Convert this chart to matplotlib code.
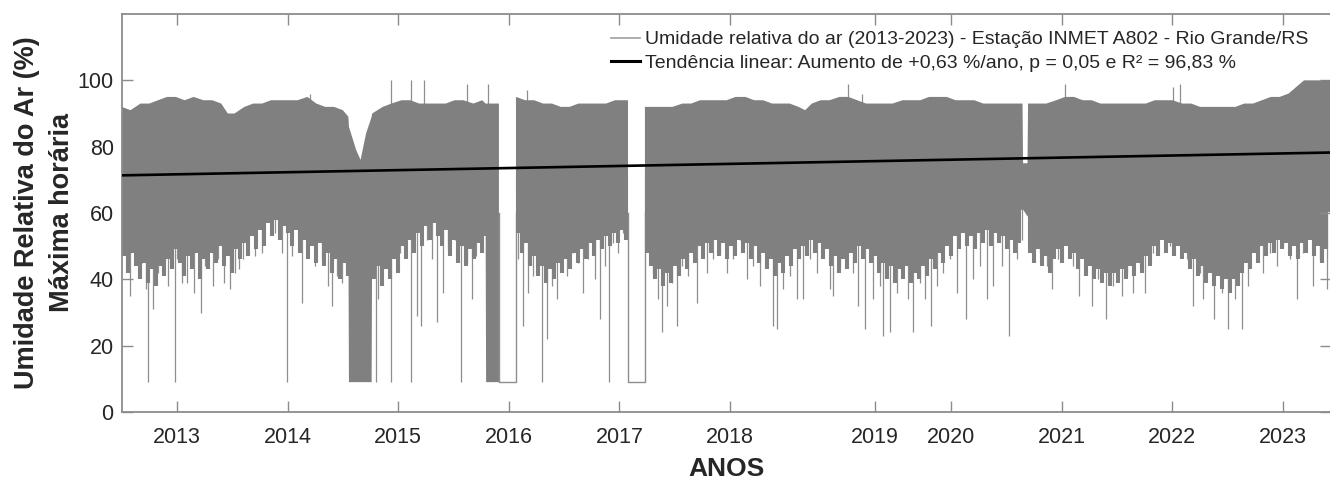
import numpy as np
import matplotlib
matplotlib.use("Agg")
import matplotlib.pyplot as plt
from matplotlib.lines import Line2D

plt.rcParams['font.family'] = ['Liberation Sans', 'DejaVu Sans']

# ---------------- data ----------------
# envelope of the hourly series: time (years), upper envelope, lower edge of the solid band
t_env = [2012.50, 2012.58, 2012.67, 2012.75, 2012.83, 2012.91, 2012.99, 2013.07, 2013.15, 2013.24,
         2013.32, 2013.40, 2013.46, 2013.52, 2013.61, 2013.69, 2013.77, 2013.85, 2013.93, 2014.01,
         2014.09, 2014.18, 2014.26, 2014.34, 2014.42, 2014.50, 2014.550, 2014.555, 2014.62, 2014.66,
         2014.71, 2014.760, 2014.765, 2014.86, 2014.94, 2015.03, 2015.11, 2015.19, 2015.27, 2015.35,
         2015.43, 2015.51, 2015.59, 2015.68, 2015.76, 2015.790, 2015.795, 2015.911, 2015.99, 2016.065,
         2016.15, 2016.23, 2016.31, 2016.39, 2016.47, 2016.55, 2016.63, 2016.72, 2016.80, 2016.88,
         2016.96, 2017.078, 2017.15, 2017.231, 2017.32, 2017.40, 2017.48, 2017.57, 2017.65, 2017.73,
         2017.81, 2017.89, 2017.97, 2018.05, 2018.14, 2018.22, 2018.30, 2018.38, 2018.46, 2018.54,
         2018.62, 2018.68, 2018.74, 2018.82, 2018.90, 2018.99, 2019.07, 2019.15, 2019.23, 2019.31,
         2019.39, 2019.47, 2019.56, 2019.64, 2019.72, 2019.80, 2019.88, 2019.96, 2020.04, 2020.12,
         2020.21, 2020.29, 2020.37, 2020.45, 2020.53, 2020.62, 2020.645, 2020.650, 2020.690, 2020.695,
         2020.78, 2020.86, 2020.95, 2021.03, 2021.11, 2021.19, 2021.27, 2021.35, 2021.43, 2021.52,
         2021.60, 2021.68, 2021.76, 2021.84, 2021.92, 2022.00, 2022.09, 2022.17, 2022.25, 2022.33,
         2022.41, 2022.49, 2022.57, 2022.65, 2022.73, 2022.81, 2022.89, 2022.97, 2023.05, 2023.12,
         2023.19, 2023.27, 2023.35, 2023.44]
hum_upper = [92, 91, 93, 93, 94, 95, 95, 94, 95, 94,
             94, 93, 90, 90, 92, 93, 93, 94, 94, 94,
             94, 95, 93, 92, 92, 91, 89, 86, 79, 76,
             84, 89, 90, 92, 93, 94, 94, 93, 93, 93,
             93, 94, 94, 93, 94, 93, 93, 93, np.nan, 95,
             94, 94, 93, 93, 92, 92, 93, 93, 93, 93,
             94, 94, np.nan, 92, 92, 92, 92, 93, 93, 94,
             94, 94, 94, 95, 95, 94, 94, 93, 93, 93,
             92, 91, 93, 94, 94, 95, 95, 94, 93, 93,
             93, 93, 94, 94, 94, 95, 95, 95, 94, 94,
             94, 93, 93, 93, 93, 93, 93, 75, 75, 93,
             93, 93, 94, 95, 95, 94, 94, 93, 93, 93,
             93, 93, 93, 94, 94, 94, 93, 93, 92, 92,
             92, 92, 92, 93, 93, 94, 95, 95, 96, 98,
             100, 100, 100, 100]
hum_lower = [56, 53, 50, 49, 53, 56, 59, 54, 57, 54,
             57, 59, 60, 61, 62, 64, 66, 68, 65, 67,
             63, 60, 62, 59, 56, 54, 52, 9, 9, 9,
             9, 9, 52, 51, 54, 59, 62, 64, 67, 66,
             64, 62, 59, 61, 62, 62, 9, 9, np.nan, 66,
             62, 56, 52, 54, 55, 57, 59, 61, 62, 63,
             64, 62, np.nan, 59, 52, 49, 51, 54, 57, 59,
             61, 60, 59, 58, 60, 59, 57, 54, 54, 57,
             59, 60, 61, 59, 56, 54, 56, 59, 60, 57,
             54, 52, 52, 51, 52, 54, 57, 61, 64, 64,
             62, 64, 64, 63, 62, 61, 61, 61, 59, 59,
             58, 56, 59, 60, 58, 54, 51, 50, 49, 51,
             52, 54, 57, 62, 64, 62, 59, 56, 54, 51,
             49, 48, 49, 54, 59, 61, 62, 60, 61, 62,
             64, 62, 61, 60]

# tips of the dense comb of hourly lines below the solid band, per data segment
comb_seg_start = [2012.521, 2014.781, 2016.083, 2017.250, 2020.713]
comb_seg_end = [2014.546, 2015.794, 2017.060, 2020.613, 2023.389]
comb_seg1 = [47, 42, 48, 44, 40, 45, 39, 43, 38, 44, 41, 46, 43, 49, 45, 41, 47, 43, 48, 40,
             46, 43, 48, 45, 50, 44, 47, 42, 49, 46, 51, 47, 53, 49, 55, 50, 57, 53, 58, 52,
             56, 54, 50, 55, 48, 52, 46, 50, 45, 51, 44, 48, 42, 46, 40, 45, 41]
comb_seg2 = [40, 44, 38, 43, 40, 46, 42, 50, 46, 52, 48, 54, 50, 56, 52, 57, 53, 50, 55, 47,
             52, 45, 50, 44, 49, 46, 51, 48, 53]
comb_seg3 = [54, 48, 51, 44, 47, 41, 44, 39, 43, 40, 45, 42, 46, 43, 48, 45, 49, 46, 51, 47,
             52, 49, 53, 50, 54, 51, 55, 52]
comb_seg4 = [48, 44, 40, 43, 38, 42, 39, 44, 41, 46, 43, 48, 45, 50, 46, 51, 48, 52, 47, 51,
             46, 50, 47, 52, 48, 51, 46, 50, 45, 48, 43, 46, 41, 45, 42, 47, 44, 49, 46, 50,
             47, 52, 48, 51, 46, 49, 44, 47, 42, 46, 43, 48, 45, 50, 46, 49, 45, 47, 42, 45,
             40, 44, 39, 43, 40, 44, 39, 42, 40, 44, 41, 46, 43, 48, 45, 50, 47, 53, 49, 54,
             50, 53, 49, 54, 51, 55, 50, 54, 51, 53, 49, 52, 48, 51]
comb_seg5 = [48, 45, 49, 44, 47, 42, 46, 49, 45, 50, 46, 48, 43, 46, 41, 44, 40, 43, 39, 42,
             38, 42, 39, 43, 40, 44, 41, 45, 42, 47, 44, 50, 47, 52, 48, 51, 47, 50, 46, 48,
             43, 46, 41, 44, 39, 42, 38, 41, 37, 40, 36, 40, 38, 42, 45, 43, 48, 45, 50, 47,
             51, 48, 52, 49, 51, 47, 50, 46, 51, 48, 52, 47, 50, 45, 49]
comb_values = [comb_seg1, comb_seg2, comb_seg3, comb_seg4, comb_seg5]

# individual deep low readings (thin downward lines)
spike_t = [2012.735, 2012.982, 2013.997, 2014.800, 2014.935, 2015.116, 2015.565, 2016.298, 2016.909,
           2012.530, 2012.575, 2012.627, 2012.681, 2012.717, 2012.780, 2012.825, 2012.882, 2012.919,
           2012.997, 2013.042, 2013.088, 2013.154, 2013.217, 2013.253, 2013.323, 2013.373, 2013.428,
           2013.479, 2013.524, 2013.561, 2013.599, 2013.705, 2013.766, 2013.886, 2013.947, 2014.037,
           2014.130, 2014.185, 2014.248, 2014.308, 2014.365, 2014.402, 2014.444, 2014.489, 2014.534,
           2014.817, 2014.851, 2014.896, 2014.971, 2015.016, 2015.062, 2015.170, 2015.206, 2015.258,
           2015.303, 2015.351, 2015.405, 2015.450, 2015.514, 2015.619, 2015.665, 2015.704, 2015.740,
           2016.086, 2016.129, 2016.176, 2016.222, 2016.267, 2016.346, 2016.388, 2016.433, 2016.478,
           2016.524, 2016.583, 2016.629, 2016.674, 2016.719, 2016.780, 2016.825, 2016.870, 2016.945,
           2016.990, 2017.035, 2017.262, 2017.307, 2017.352, 2017.383, 2017.428, 2017.473, 2017.518,
           2017.564, 2017.623, 2017.684, 2017.700, 2017.790, 2017.849, 2017.910, 2017.970, 2018.030,
           2018.091, 2018.151, 2018.211, 2018.271, 2018.332, 2018.389, 2018.425, 2018.482, 2018.543,
           2018.603, 2018.660, 2018.724, 2018.784, 2018.844, 2018.904, 2018.932, 2018.995, 2019.055,
           2019.115, 2019.158, 2019.221, 2019.296, 2019.357, 2019.384, 2019.447, 2019.508, 2019.567,
           2019.613, 2019.655, 2019.718, 2019.763, 2019.815, 2019.869, 2019.929, 2019.990, 2020.050,
           2020.134, 2020.200, 2020.261, 2020.321, 2020.381, 2020.457, 2020.523, 2020.593, 2020.638,
           2020.743, 2020.803, 2020.864, 2020.909, 2020.969, 2021.045, 2021.104, 2021.156, 2021.226,
           2021.271, 2021.330, 2021.397, 2021.466, 2021.542, 2021.587, 2021.647, 2021.707, 2021.753,
           2021.828, 2021.904, 2021.979, 2022.130, 2022.184, 2022.250, 2022.277, 2022.377, 2022.446,
           2022.503, 2022.567, 2022.630, 2022.687, 2022.763, 2022.822, 2022.883, 2022.944, 2023.003,
           2023.064, 2023.127, 2023.184, 2023.269, 2023.335, 2023.396]
spike_v = [9, 9, 9, 9, 9, 9, 9, 9, 9,
           50, 35, 48, 45, 37, 31, 42, 44, 38,
           46, 39, 39, 36, 30, 44, 38, 46, 39,
           37, 42, 43, 46, 47, 48, 54, 48, 47,
           33, 52, 44, 46, 38, 32, 41, 39, 44,
           34, 39, 44, 54, 48, 60, 29, 26, 52,
           46, 27, 36, 49, 52, 45, 34, 47, 56,
           46, 26, 36, 41, 46, 22, 38, 34, 44,
           41, 48, 45, 36, 46, 40, 28, 44, 51,
           48, 54, 54, 42, 34, 24, 32, 39, 26,
           44, 41, 48, 33, 42, 46, 48, 42, 46,
           52, 40, 44, 38, 46, 26, 25, 37, 41,
           34, 34, 46, 42, 48, 37, 35, 44, 48,
           42, 32, 25, 34, 38, 23, 24, 36, 42,
           34, 24, 39, 34, 26, 38, 42, 46, 36,
           28, 40, 44, 34, 38, 44, 23, 46, 52,
           54, 48, 44, 37, 46, 52, 44, 35, 48,
           32, 40, 28, 38, 35, 42, 36, 44, 36,
           48, 54, 50, 46, 32, 42, 34, 28, 36,
           25, 34, 25, 38, 46, 42, 48, 44, 50,
           46, 34, 48, 38, 46, 37]

# individual high readings (thin upward lines)
peak_t = [2014.203, 2014.935, 2015.116, 2015.233, 2015.622, 2015.812, 2016.165,
          2019.065, 2019.194, 2021.029, 2022.006, 2022.069]
peak_v = [96, 100, 100, 100, 99, 99, 97, 99, 96, 99, 98, 99]

# periods without data (series held at the floor value)
gap_start = [2015.911, 2017.078]
gap_end = [2016.065, 2017.231]
gap_floor = 9

# linear trend
trend_start = 71.35     # value at left edge
trend_slope = 0.63      # % per year

year_ticks = [2013, 2014, 2015, 2016, 2017, 2018, 2019.31, 2020, 2021, 2022, 2023]
year_labels = ['2013', '2014', '2015', '2016', '2017', '2018', '2019', '2020', '2021', '2022', '2023']
y_ticks = [0, 20, 40, 60, 80, 100]

x_min, x_max = 2012.503, 2023.434

# ---------------- figure ----------------
W, H = 1330, 479
fig = plt.figure(figsize=(W / 100, H / 100), dpi=100)
ax = fig.add_axes([122 / W, (H - 412) / H, (1331 - 122) / W, (412 - 14) / H])

grey = '#808080'
line_grey = '#8e8e8e'
ax.vlines(spike_t, spike_v, 72, color=line_grey, lw=0.9, zorder=1)
for s, e, vals in zip(comb_seg_start, comb_seg_end, comb_values):
    ct = np.linspace(s, e, len(vals))
    ax.vlines(ct, vals, 72, color=grey, lw=2.95, zorder=1.5)
ax.vlines(peak_t, 80, peak_v, color=line_grey, lw=0.9, zorder=1)
for s, e in zip(gap_start, gap_end):
    ax.plot([s, s, e, e], [60, gap_floor, gap_floor, 60], color=line_grey, lw=1.0, zorder=1)
ax.fill_between(np.array(t_env), np.array(hum_lower, float), np.array(hum_upper, float),
                color=grey, lw=0, zorder=2)

tt = np.array([x_min, x_max])
ax.plot(tt, trend_start + trend_slope * (tt - x_min), color='black', lw=1.9, zorder=3)

ax.set_xlim(x_min, x_max)
ax.set_ylim(0, 120)
ax.set_xticks(year_ticks)
ax.set_xticklabels(year_labels)
ax.set_yticks(y_ticks)

spine_c = '#8c8c8c'
for sp in ax.spines.values():
    sp.set_color(spine_c)
    sp.set_linewidth(1.3)
ax.tick_params(direction='in', length=8, width=1.0, color=spine_c,
               top=True, right=True, labelsize=15.5, labelcolor='#262626')
ax.tick_params(axis='x', pad=11)
ax.tick_params(axis='y', pad=6)

ax.set_ylabel('Umidade Relativa do Ar (%)\nMáxima horária', fontsize=19.5, fontweight='bold',
              color='#262626', linespacing=1.45)
ax.yaxis.set_label_coords(-0.039, 0.5)
ax.set_xlabel('ANOS', fontsize=19, fontweight='bold', color='#262626')
ax.xaxis.set_label_coords(0.5, -0.113)
ax.xaxis.label.set_va('top')

handles = [Line2D([], [], color='#a8a8a8', lw=1.3),
           Line2D([], [], color='black', lw=2.2)]
labels = ['Umidade relativa do ar (2013-2023) - Estação INMET A802 - Rio Grande/RS',
          'Tendência linear: Aumento de +0,63 %/ano, p = 0,05 e R² = 96,83 %']
leg = ax.legend(handles, labels, loc='upper left', bbox_to_anchor=(0.4045, 0.958),
                frameon=False, fontsize=14, handlelength=1.5, handletextpad=0.25,
                labelspacing=0.3, borderpad=0, borderaxespad=0)
for txt in leg.get_texts():
    txt.set_color('#262626')

fig.savefig('out.png', dpi=100)
